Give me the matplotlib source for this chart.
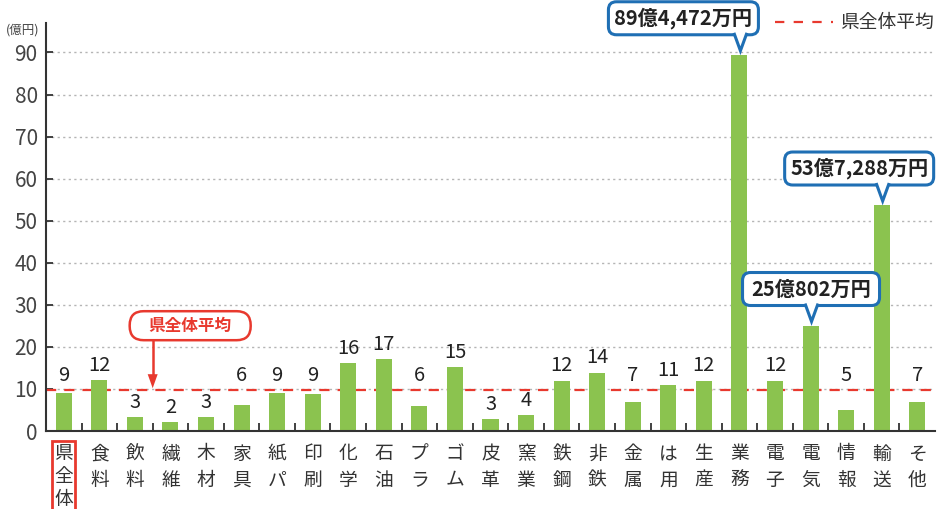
import numpy as np
import matplotlib
matplotlib.use("Agg")
import matplotlib.pyplot as plt
from matplotlib.patches import FancyBboxPatch, Polygon
from matplotlib.lines import Line2D
from matplotlib.transforms import IdentityTransform

plt.rcParams['font.family'] = ['Noto Sans CJK JP', 'DejaVu Sans']

# ---------------- data ----------------
categories = ["県全体", "食料", "飲料", "繊維", "木材", "家具", "紙パ", "印刷", "化学", "石油",
              "プラ", "ゴム", "皮革", "窯業", "鉄鋼", "非鉄", "金属", "は用", "生産", "業務",
              "電子", "電気", "情報", "輸送", "そ他"]
values = [9.0, 12.1, 3.3, 2.1, 3.3, 6.2, 9.0, 8.9, 16.1, 17.0,
          6.0, 15.1, 2.9, 3.8, 12.0, 13.9, 7.0, 11.0, 12.0, 89.4472,
          12.0, 25.0802, 5.0, 53.7288, 7.0]
callout_cats = ["業務", "電気", "輸送"]
average = 9.7
yticks = [0, 10, 20, 30, 40, 50, 60, 70, 80, 90]
unit_label = "(億円)"
legend_label = "県全体平均"

GREEN = "#8bc34f"
RED = "#e8392e"
BLUE = "#1f6fb4"
TXT = "#333333"

W, H = 943, 509
fig = plt.figure(figsize=(W / 100, H / 100), dpi=100)
ax = fig.add_axes([46 / W, 78 / H, (935 - 46) / W, (431 - 23) / H])

x = np.arange(len(categories))
ax.bar(x, values, width=0.45, color=GREEN, zorder=3)
ax.set_xlim(-0.5, len(categories) - 0.5)
ax.set_ylim(0, 97)

# grid
for t in yticks[1:]:
    ax.axhline(t, color="#b5b5b5", lw=1.0, ls=(0, (1.6, 2.4)), zorder=1)
# average line
ax.axhline(average, color=RED, lw=1.6, ls=(0, (4.6, 3.6)), zorder=2)

# spines
for s in ["top", "right"]:
    ax.spines[s].set_visible(False)
for s in ["left", "bottom"]:
    ax.spines[s].set_color(TXT)
    ax.spines[s].set_linewidth(1.5)
    ax.spines[s].set_zorder(4)

ax.set_yticks(yticks)
ax.set_yticklabels([str(t) for t in yticks], fontsize=15, color="#444444")
ax.tick_params(axis="y", direction="in", length=5, width=1.3, color=TXT, pad=6)

labels = ["\n".join(c) for c in categories]
ax.set_xticks(x)
ax.set_xticklabels(labels, fontsize=13.5, color=TXT, linespacing=1.32, va="top")
ax.set_xticks(np.arange(0.5, len(categories) - 1, 1.0), minor=True)
ax.tick_params(axis="x", which="major", length=0, pad=9)
ax.tick_params(axis="x", which="minor", direction="in", length=6, width=1.3, color=TXT)
first = ax.get_xticklabels()[0]
first.set_linespacing(1.12)
first.set_color(TXT)
first.set_bbox(dict(boxstyle="square,pad=0.12", fc="none", ec=RED, lw=2))

# value labels
for i, (c, v) in enumerate(zip(categories, values)):
    if c in callout_cats:
        continue
    anchor = average if (average - 5 < v < average + 0.5) else v
    ax.annotate(f"{round(v)}", (i, anchor), xytext=(0, 3), textcoords="offset points",
                ha="center", va="bottom", fontsize=14.5, color="#222222", zorder=6)

# unit label
fig.text(23 / W, 1 - 30 / H, unit_label, fontsize=9, color="#444444", ha="center", va="center")

# legend
ly = 1 - 22 / H
fig.add_artist(Line2D([775 / W, 833 / W], [ly, ly], transform=fig.transFigure,
                      color=RED, lw=1.6, ls=(0, (4.2, 4.2))))
fig.text(840 / W, ly, legend_label, fontsize=13.5, color=TXT, ha="left", va="center")

fig.canvas.draw()
ID = IdentityTransform()


def disp(xv, yv):
    return ax.transData.transform((xv, yv))


def fmt_oku(v):
    oku = int(v)
    man = int(round((v - oku) * 10000))
    return f"{oku}億{man:,}万円"


# blue callouts: (left offset px, right offset px)
offsets = {"業務": (-131, 19), "電気": (-68, 69), "輸送": (-97, 52)}
for c in callout_cats:
    i = categories.index(c)
    v = values[i]
    bx, by = disp(i, v)
    tipx, tipy = bx + 1, by + 4
    b = tipy + 16
    h = 33
    l, r = bx + offsets[c][0], bx + offsets[c][1]
    box = FancyBboxPatch((l, b), r - l, h, boxstyle="round,pad=0,rounding_size=8",
                         transform=ID, fc="white", ec=BLUE, lw=2.2, zorder=8, clip_on=False)
    fig.add_artist(box)
    poly = Polygon([(tipx - 6, b + 2.5), (tipx - 6, b), (tipx, tipy), (tipx + 6, b), (tipx + 6, b + 2.5)],
                   closed=True, transform=ID, fc="white", ec="none", zorder=9)
    fig.add_artist(poly)
    fig.add_artist(Line2D([tipx - 6, tipx, tipx + 6], [b + 0.5, tipy, b + 0.5], transform=ID,
                          color=BLUE, lw=2.2, zorder=10, solid_joinstyle="miter"))
    fig.text((l + r) / 2 / W, (b + h / 2) / H, fmt_oku(v), fontsize=14.5, fontweight="bold",
             color="#222222", ha="center", va="center", zorder=11)

# red average callout
ax_, ay_ = disp(2.5, average)
tip = (ax_, ay_ + 2)
b = ay_ + 50
h = 29
l, r = ax_ - 23, ax_ + 98
fig.add_artist(FancyBboxPatch((l, b), r - l, h, boxstyle="round,pad=0,rounding_size=14",
                              transform=ID, fc="white", ec=RED, lw=1.8, zorder=8))
fig.add_artist(Line2D([tip[0], tip[0]], [b, tip[1] + 12], transform=ID, color=RED, lw=1.8, zorder=8))
fig.add_artist(Polygon([(tip[0] - 5, tip[1] + 14), (tip[0] + 5, tip[1] + 14), tip], closed=True,
                       transform=ID, fc=RED, ec="none", zorder=8))
fig.text((l + r) / 2 / W, (b + h / 2) / H, legend_label, fontsize=12, fontweight="bold",
         color=RED, ha="center", va="center", zorder=9)

fig.savefig("out.png", dpi=100)
